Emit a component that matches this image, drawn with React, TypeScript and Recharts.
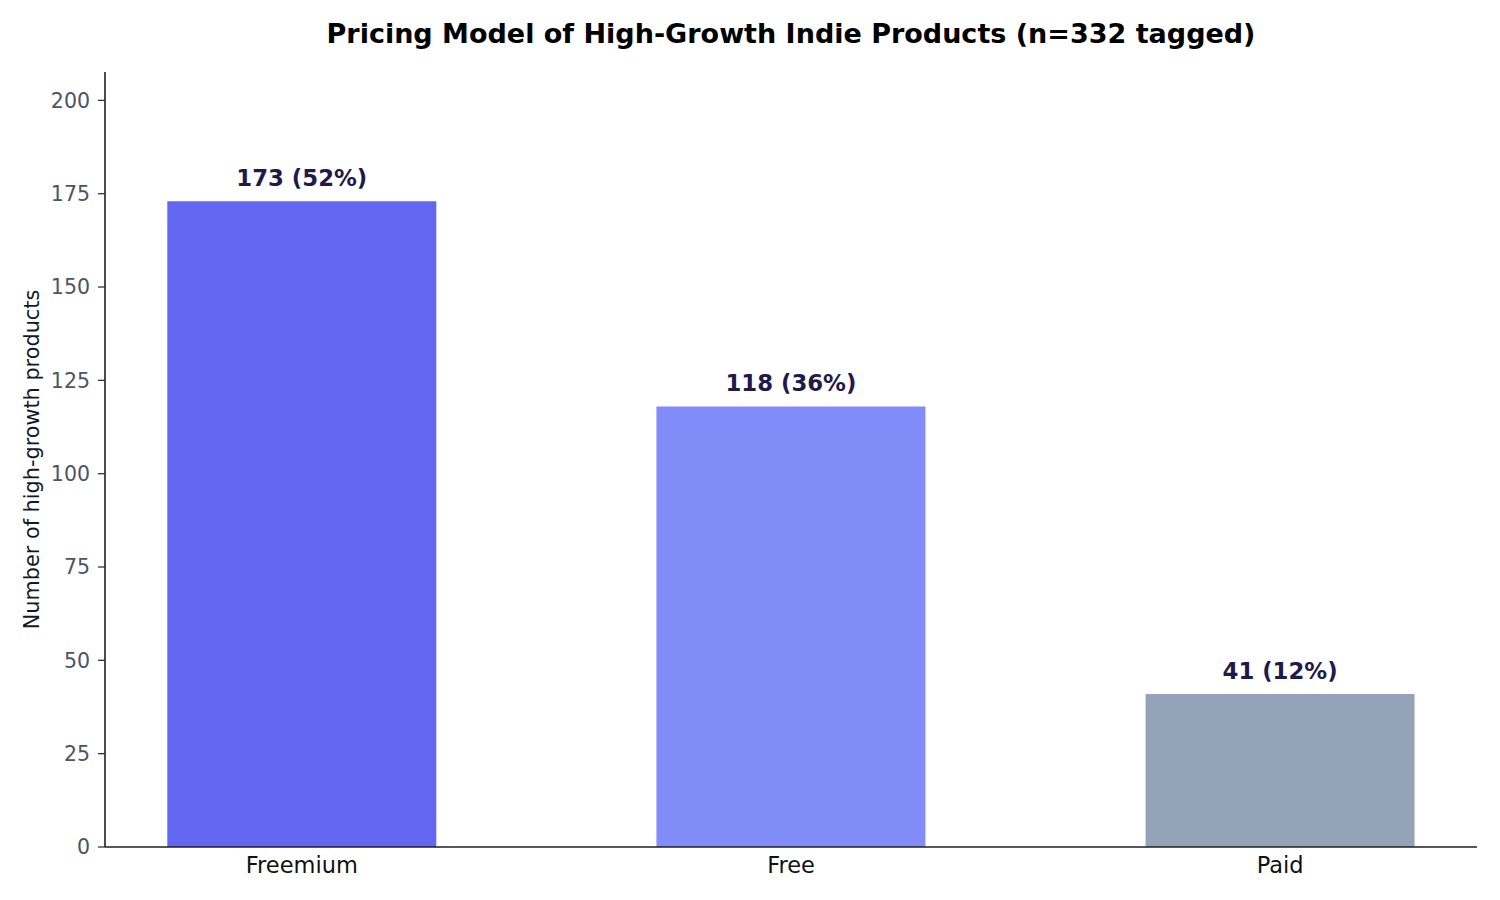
import { BarChart, Bar, XAxis, YAxis, Cell, LabelList } from "recharts";

const categories = ["Freemium", "Free", "Paid"];
const counts = [173, 118, 41];
const shares = [52, 36, 12];
const barColors = ["#6366f1", "#818cf8", "#94a3b8"];
const yTicks = [0, 25, 50, 75, 100, 125, 150, 175, 200];

const data = categories.map((name, i) => ({
  idx: i,
  name,
  count: counts[i],
  label: `${counts[i]} (${shares[i]}%)`,
}));

const FONT = "'DejaVu Sans', sans-serif";

function YLabel(props: any) {
  const vb = props.viewBox || {};
  const cy = vb.y + vb.height / 2;
  return (
    <text
      x={32}
      y={cy}
      transform={`rotate(-90, 32, ${cy})`}
      textAnchor="middle"
      dominantBaseline="central"
      fontSize={20.8}
      fill="#111827"
      fontFamily={FONT}
    >
      Number of high-growth products
    </text>
  );
}

export default function App() {
  return (
    <div style={{ position: "absolute", left: 0, top: 0, width: 1500, height: 900, background: "#fff", fontFamily: FONT }}>
      <div
        style={{
          position: "absolute",
          left: 105,
          width: 1372,
          top: 20,
          textAlign: "center",
          fontSize: 27,
          lineHeight: "27px",
          fontWeight: "bold",
          color: "#000",
          whiteSpace: "nowrap",
        }}
      >
        Pricing Model of High-Growth Indie Products (n=332 tagged)
      </div>
      <BarChart
        width={1500}
        height={900}
        data={data}
        margin={{ top: 72, right: 23, bottom: 0, left: 0 }}
        style={{ position: "absolute", left: 0, top: 0 }}
      >
        <XAxis
          dataKey="idx"
          type="number"
          domain={[-0.4025, 2.4025]}
          ticks={[0, 1, 2]}
          tickFormatter={(v: number) => categories[v] ?? ""}
          height={53}
          tickLine={false}
          tickSize={0}
          tickMargin={10}
          axisLine={{ stroke: "#1f1f1f", strokeWidth: 1.6 }}
          tick={{ fontSize: 22.5, fill: "#111", fontFamily: FONT }}
          allowDataOverflow
        />
        <YAxis
          type="number"
          domain={[0, 207.6]}
          ticks={yTicks}
          width={105}
          tickSize={7}
          tickMargin={8}
          axisLine={{ stroke: "#1f1f1f", strokeWidth: 1.6 }}
          tickLine={{ stroke: "#333", strokeWidth: 1.3 }}
          tick={{ fontSize: 20.5, fill: "#4b5563", fontFamily: FONT }}
          label={<YLabel />}
          allowDataOverflow
        />
        <Bar dataKey="count" barSize={269} isAnimationActive={false}>
          {data.map((d, i) => (
            <Cell key={d.name} fill={barColors[i]} />
          ))}
          <LabelList
            dataKey="label"
            position="top"
            offset={15}
            fill="#1e1b4b"
            fontSize={22.8}
            fontWeight="bold"
            fontFamily={FONT}
          />
        </Bar>
      </BarChart>
    </div>
  );
}
